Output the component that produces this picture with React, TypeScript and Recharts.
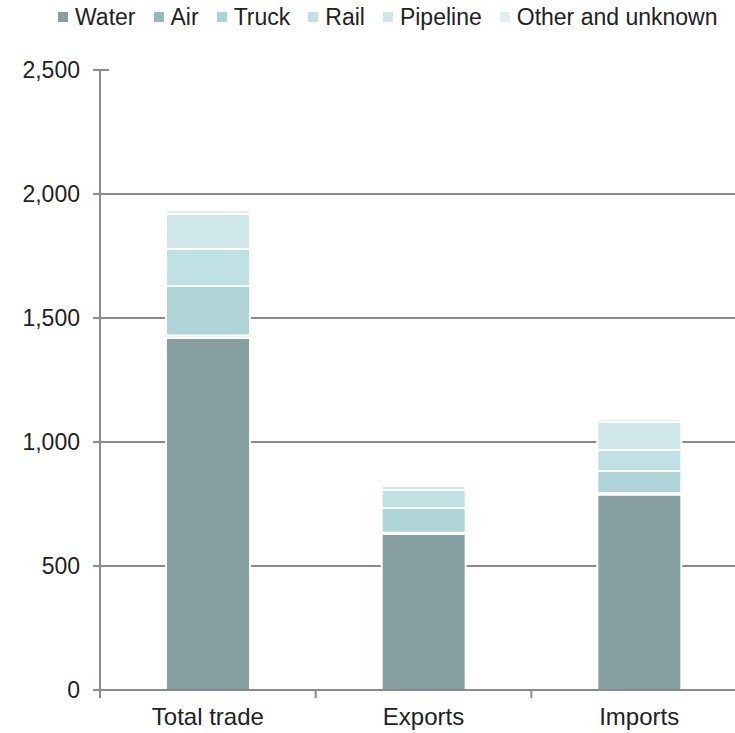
import React from 'react';
import { BarChart, Bar, XAxis, YAxis, CartesianGrid, Legend } from 'recharts';

const categories = ['Total trade', 'Exports', 'Imports'];
const water = [1419, 630, 788];
const air = [10, 4, 6];
const truck = [200, 100, 89];
const rail = [149, 72, 85];
const pipeline = [141, 18, 113];
const other = [16, 8, 12];
const yTicks = [0, 500, 1000, 1500, 2000, 2500];
const gridValues = [500, 1000, 1500, 2000];

const seriesDefs = [
  { key: 'water', name: 'Water', color: '#86A0A2', values: water },
  { key: 'air', name: 'Air', color: '#97B9BC', values: air },
  { key: 'truck', name: 'Truck', color: '#AED4D7', values: truck },
  { key: 'rail', name: 'Rail', color: '#BFE1E4', values: rail },
  { key: 'pipeline', name: 'Pipeline', color: '#D0E7EA', values: pipeline },
  { key: 'other', name: 'Other and unknown', color: '#DEEFF1', values: other },
];

const data = categories.map((c, i) => {
  const row: Record<string, any> = { category: c };
  seriesDefs.forEach((s) => {
    row[s.key] = s.values[i];
  });
  return row;
});

const FONT = '"Liberation Sans", Arial, Helvetica, sans-serif';
const W = 760;
const H = 733;
const MARGIN = { top: 36, right: 13, left: 0, bottom: 0 };
const Y_W = 100;
const X_H = 43;
const AXIS_X = MARGIN.left + Y_W;
const BAND = (W - MARGIN.left - MARGIN.right - Y_W) / categories.length;
const AXIS_COLOR = '#8a8a8a';

const LegendContent = () => (
  <div
    style={{
      display: 'flex',
      alignItems: 'center',
      height: 34,
      paddingLeft: 58,
      fontFamily: FONT,
      fontSize: 23,
      color: '#222',
      whiteSpace: 'nowrap',
    }}
  >
    {seriesDefs.map((s) => (
      <div key={s.key} style={{ display: 'flex', alignItems: 'center', marginRight: 18 }}>
        <span style={{ display: 'inline-block', width: 10, height: 10, background: s.color, marginRight: 7 }} />
        <span>{s.name}</span>
      </div>
    ))}
  </div>
);

const XTick = (props: any) => {
  const { x, y, payload } = props;
  const axisY = y - 19;
  return (
    <g>
      <line x1={x - BAND / 2} x2={x - BAND / 2} y1={axisY} y2={axisY + 8} stroke={AXIS_COLOR} strokeWidth={2} />
      <text x={x} y={y - 1} dy="0.71em" textAnchor="middle" fontFamily={FONT} fontSize={24} fill="#222">
        {payload.value}
      </text>
    </g>
  );
};

const YTick = (props: any) => {
  const { x, y, payload } = props;
  return (
    <g>
      <line x1={AXIS_X - 7} x2={AXIS_X + 9} y1={y} y2={y} stroke={AXIS_COLOR} strokeWidth={2} />
      <text x={x} y={y} dy="0.355em" textAnchor="end" fontFamily={FONT} fontSize={23} fill="#222">
        {Number(payload.value).toLocaleString('en-US')}
      </text>
    </g>
  );
};

export default function App() {
  return (
    <div style={{ position: 'absolute', left: 0, top: 0, width: 735, height: 733, overflow: 'hidden', background: '#fff' }}>
      <BarChart width={W} height={H} data={data} margin={MARGIN} barSize={84}>
        <CartesianGrid vertical={false} horizontalValues={gridValues} stroke={AXIS_COLOR} strokeWidth={2} />
        <XAxis
          dataKey="category"
          height={X_H}
          axisLine={{ stroke: AXIS_COLOR, strokeWidth: 2 }}
          tickLine={false}
          tickSize={0}
          tickMargin={19}
          tick={<XTick />}
          interval={0}
        />
        <YAxis
          width={Y_W}
          domain={[0, 2500]}
          ticks={yTicks}
          interval={0}
          axisLine={{ stroke: AXIS_COLOR, strokeWidth: 2 }}
          tickLine={false}
          tickSize={6}
          tickMargin={14}
          tick={<YTick />}
        />
        <Legend verticalAlign="top" wrapperStyle={{ top: 0, left: 0, width: 735 }} content={<LegendContent />} />
        {seriesDefs.map((s) => (
          <Bar
            key={s.key}
            dataKey={s.key}
            name={s.name}
            stackId="a"
            fill={s.color}
            stroke="#ffffff"
            strokeWidth={2}
            isAnimationActive={false}
          />
        ))}
      </BarChart>
    </div>
  );
}
